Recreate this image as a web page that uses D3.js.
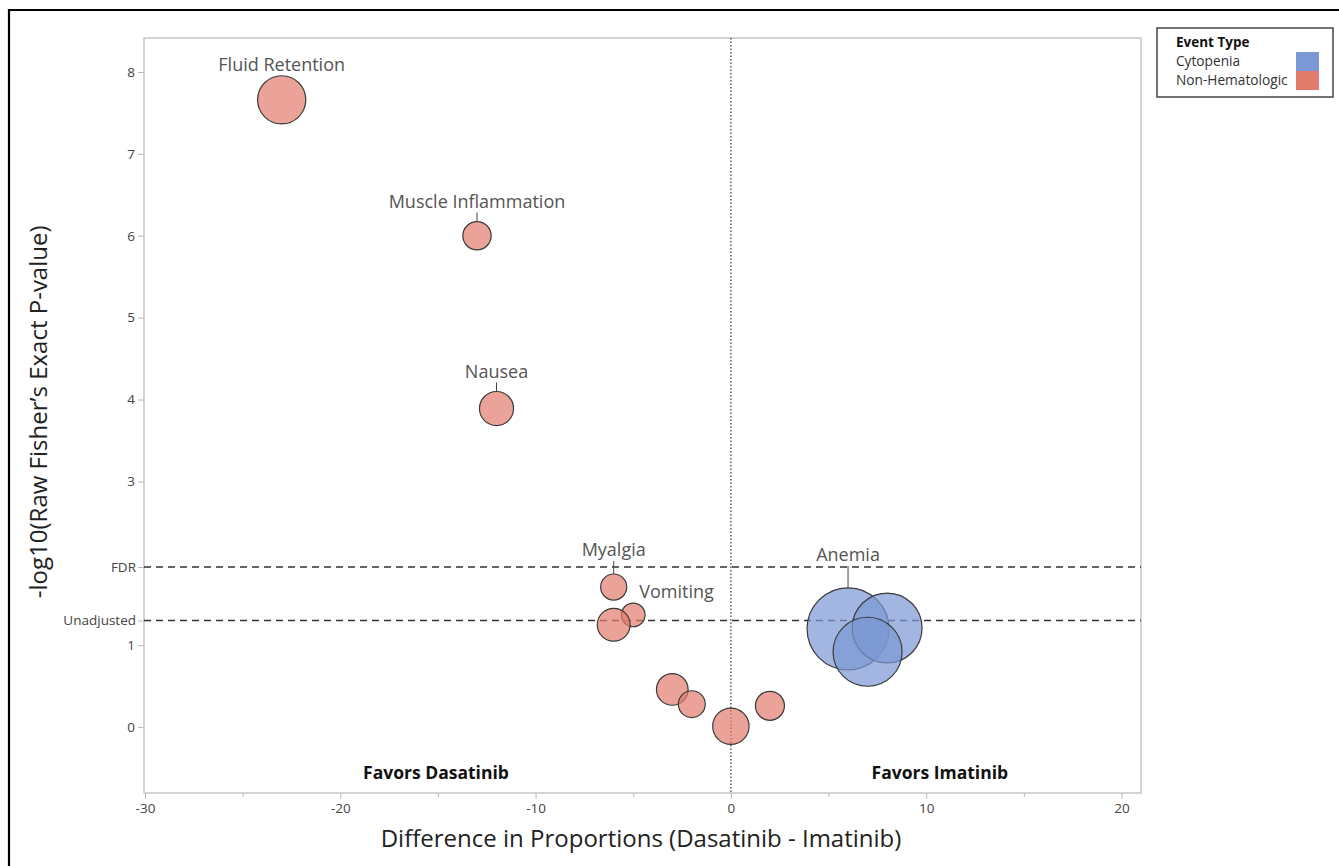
<!DOCTYPE html>
<html>
<head>
<meta charset="utf-8">
<script src="https://cdnjs.cloudflare.com/ajax/libs/d3/7.8.5/d3.min.js"></script>
<style>
  body { margin: 0; background: #fff; }
  svg text { font-family: "Open Sans", "Noto Sans", sans-serif; }
</style>
</head>
<body>
<div id="chart"></div>
<script>
// event data
var names = ["Fluid Retention", "Muscle Inflammation", "Nausea", "Myalgia", "Vomiting",
             "", "", "", "", "", "Anemia", "", ""];
var types = ["Non-Hematologic", "Non-Hematologic", "Non-Hematologic", "Non-Hematologic", "Non-Hematologic",
             "Non-Hematologic", "Non-Hematologic", "Non-Hematologic", "Non-Hematologic", "Non-Hematologic",
             "Cytopenia", "Cytopenia", "Cytopenia"];
var diffs  = [-23, -13, -12, -6, -5, -6, -3, -2, 0, 2, 6, 8, 7];
var logP   = [7.66, 6.0, 3.89, 1.71, 1.37, 1.25, 0.46, 0.28, 0.01, 0.26, 1.2, 1.21, 0.92];
var sizes  = [58, 20, 29, 17, 14, 27, 25, 18, 33, 21, 168, 122, 119];

var eventTypes = ["Cytopenia", "Non-Hematologic"];
var typeColors = ["#7b97d4", "#e27c6d"];

var xTicks = [-30, -20, -10, 0, 10, 20];
var xMinorTicks = [-25, -15, -5, 5, 15];
var yTicks = [0, 1, 3, 4, 5, 6, 7, 8];
var refLines = [{label: "FDR", value: 1.955}, {label: "Unadjusted", value: 1.301}];
var favors = [{label: "Favors Dasatinib", x: -15.1}, {label: "Favors Imatinib", x: 10.7}];

// label layout: which point, leader line length, gap above bubble
var labelSetup = [
  {i: 0, lead: 0, gap: 0},
  {i: 1, lead: 9, gap: 0},
  {i: 2, lead: 9, gap: 0},
  {i: 3, lead: 13, gap: 0},
  {i: 4, side: true},
  {i: 10, lead: 22, gap: 0}
];

var W = 1339, H = 866;
var margin = {top: 38, right: 198, bottom: 73, left: 144},
    width = W - margin.left - margin.right,
    height = H - margin.top - margin.bottom;

var svg = d3.select("#chart").append("svg")
    .attr("width", W)
    .attr("height", H);

// outer frame
svg.append("path")
   .attr("d", "M9," + H + "V10H" + W)
   .attr("fill", "none")
   .attr("stroke", "#000")
   .attr("stroke-width", 2.2);

var g = svg.append("g")
    .attr("transform", "translate(" + margin.left + "," + margin.top + ")");

var x = d3.scaleLinear().domain([-30.05, 21]).range([0, width]);
var y = d3.scaleLinear().domain([-0.805, 8.415]).range([height, 0]);
var r = d3.scaleSqrt().domain([0, 168]).range([0, 41]);
var color = d3.scaleOrdinal().domain(eventTypes).range(typeColors);

var data = diffs.map(function(d, i) {
  return {name: names[i], type: types[i], x: d, y: logP[i], size: sizes[i]};
});

// axes
g.append("g")
   .attr("class", "x axis")
   .attr("transform", "translate(0," + height + ")")
   .call(d3.axisBottom(x).tickValues(xTicks).tickSize(6).tickPadding(4)
          .tickFormat(function(d) { return String(d); }));
g.append("g")
   .attr("transform", "translate(0," + height + ")")
   .call(d3.axisBottom(x).tickValues(xMinorTicks).tickSize(4).tickFormat(""));

g.append("g")
   .attr("class", "y axis")
   .call(d3.axisLeft(y).tickValues(yTicks).tickSize(6).tickPadding(3)
          .tickFormat(function(d) { return String(d); }));
g.append("g")
   .call(d3.axisLeft(y).tickValues(refLines.map(function(d) { return d.value; }))
          .tickSize(6).tickPadding(2)
          .tickFormat(function(d, i) { return refLines[i].label; }));

g.selectAll(".tick line").attr("stroke", "#b8b8b8");
g.selectAll(".tick text").attr("fill", "#444").style("font-size", "13.5px");
g.selectAll(".domain").remove();

// plot frame
g.append("rect")
   .attr("width", width)
   .attr("height", height)
   .attr("fill", "none")
   .attr("stroke", "#c6c6c6")
   .attr("stroke-width", 1.5);

// reference lines
g.selectAll(".ref")
   .data(refLines)
   .enter().append("line")
   .attr("x1", 0).attr("x2", width)
   .attr("y1", function(d) { return y(d.value); })
   .attr("y2", function(d) { return y(d.value); })
   .attr("stroke", "#333")
   .attr("stroke-width", 1.4)
   .attr("stroke-dasharray", "7,5");

g.append("line")
   .attr("x1", x(0)).attr("x2", x(0))
   .attr("y1", 0).attr("y2", height)
   .attr("stroke", "#333")
   .attr("stroke-width", 1.2)
   .attr("stroke-dasharray", "1.5,2");

// favors text
g.selectAll(".favors")
   .data(favors)
   .enter().append("text")
   .attr("x", function(d) { return x(d.x); })
   .attr("y", height - 14)
   .attr("text-anchor", "middle")
   .attr("font-weight", "bold")
   .style("font-size", "17.5px")
   .attr("fill", "#111")
   .text(function(d) { return d.label; });

// bubbles
g.selectAll(".bubble")
   .data(data)
   .enter().append("circle")
   .attr("cx", function(d) { return x(d.x); })
   .attr("cy", function(d) { return y(d.y); })
   .attr("r", function(d) { return r(d.size); })
   .attr("fill", function(d) { return color(d.type); })
   .attr("fill-opacity", 0.7)
   .attr("stroke", "#3a3a3a")
   .attr("stroke-width", 1.2);

// point labels
labelSetup.forEach(function(l) {
  var d = data[l.i];
  var cx = x(d.x), cy = y(d.y), rr = r(d.size);
  if (l.side) {
    g.append("text")
     .attr("x", cx + 6)
     .attr("y", cy - rr - 5)
     .attr("fill", "#555")
     .style("font-size", "18px")
     .text(d.name);
    return;
  }
  var top = cy - rr - l.gap;
  if (l.lead > 0) {
    g.append("line")
     .attr("x1", cx).attr("x2", cx)
     .attr("y1", top).attr("y2", top - l.lead)
     .attr("stroke", "#444")
     .attr("stroke-width", 1);
  }
  g.append("text")
   .attr("x", cx)
   .attr("y", top - l.lead - 5)
   .attr("text-anchor", "middle")
   .attr("fill", "#555")
   .style("font-size", "18px")
   .text(d.name);
});

// axis titles
svg.append("text")
   .attr("x", margin.left + x(-4.6))
   .attr("y", 847)
   .attr("text-anchor", "middle")
   .attr("fill", "#222")
   .style("font-size", "24px")
   .text("Difference in Proportions (Dasatinib - Imatinib)");

svg.append("text")
   .attr("transform", "translate(47," + (margin.top + y(3.85)) + ") rotate(-90)")
   .attr("text-anchor", "middle")
   .attr("fill", "#222")
   .style("font-size", "24px")
   .text("-log10(Raw Fisher\u2019s Exact P-value)");

// legend
var legend = svg.append("g")
   .attr("transform", "translate(1157,28)");
legend.append("rect")
   .attr("width", 176).attr("height", 69)
   .attr("fill", "#fff")
   .attr("stroke", "#444")
   .attr("stroke-width", 1.5);
legend.append("text")
   .attr("x", 19).attr("y", 19)
   .attr("font-weight", "bold")
   .attr("fill", "#111")
   .style("font-size", "13.5px")
   .text("Event Type");
var items = legend.selectAll(".item")
   .data(eventTypes)
   .enter().append("g")
   .attr("transform", function(d, i) { return "translate(0," + (24 + i * 19) + ")"; });
items.append("rect")
   .attr("x", 139).attr("width", 23).attr("height", 19)
   .attr("fill", color);
items.append("text")
   .attr("x", 19).attr("y", 14)
   .attr("fill", "#333")
   .style("font-size", "13.7px")
   .text(function(d) { return d; });
</script>
</body>
</html>
